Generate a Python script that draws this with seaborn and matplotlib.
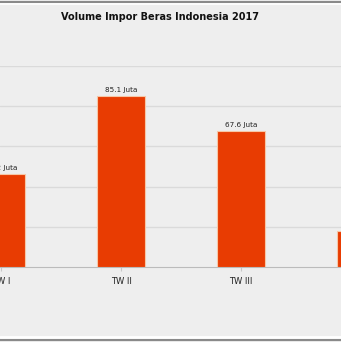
import matplotlib
matplotlib.use("Agg")
import matplotlib.pyplot as plt
import seaborn as sns
from matplotlib.lines import Line2D

categories = ["TW I", "TW II", "TW III", "TW IV"]
values = [46.2, 85.1, 67.6, 18.0]
labels = [f"{v} Juta" for v in values]
title = "Volume Impor Beras Indonesia 2017"

sns.set_theme(style="white")
plt.rcParams['font.family'] = ['DejaVu Sans']

W, H = 341, 342
fig = plt.figure(figsize=(W / 100, H / 100), dpi=100)
bg = "#EEEEEE"
fig.patch.set_facecolor(bg)

# axes: baseline at y=267px, top (100) at y=66px
ax = fig.add_axes([0, (H - 267) / H, 1, (267 - 66) / H])
ax.set_facecolor(bg)

sns.barplot(x=categories, y=values, width=0.4, color="#E83C02",
            edgecolor="#F6C7A6", linewidth=0.8, saturation=1, ax=ax, zorder=3)

ax.set_xlim(-1 / 120, 340 / 120)
ax.set_ylim(0, 100)
ax.set_yticks([20, 40, 60, 80, 100])
ax.yaxis.grid(True, color="#DADADA", linewidth=1.0, zorder=0)
ax.set_axisbelow(True)
ax.tick_params(axis="y", left=False, labelleft=False)
ax.tick_params(axis="x", bottom=True, length=3, color="#C8C8C8", width=0.8,
               labelsize=6, pad=4, labelcolor="#222222")
for s in ["top", "right", "left"]:
    ax.spines[s].set_visible(False)
ax.spines["bottom"].set_color("#BBBBBB")
ax.spines["bottom"].set_linewidth(0.8)
ax.set_xlabel("")
ax.set_ylabel("")

ax.bar_label(ax.containers[0], labels=labels, padding=2, fontsize=5.2,
             color="#222222")

fig.text(160 / W, 1 - 17 / H, title, ha="center", va="center",
         fontsize=7, fontweight="bold", color="#111111")

# screenshot frame lines
fig.add_artist(Line2D([0, 1], [1 - 1.5 / H, 1 - 1.5 / H], color="#8A8A8A", linewidth=1.5))
fig.add_artist(Line2D([0, 1], [1 - 3.5 / H, 1 - 3.5 / H], color="#FFFFFF", linewidth=1.2))
fig.add_artist(Line2D([0, 1], [1 - 337 / H, 1 - 337 / H], color="#FFFFFF", linewidth=2.0))
fig.add_artist(Line2D([0, 1], [1 - 340 / H, 1 - 340 / H], color="#8A8A8A", linewidth=1.5))

fig.savefig("out.png", dpi=100, facecolor=bg)
